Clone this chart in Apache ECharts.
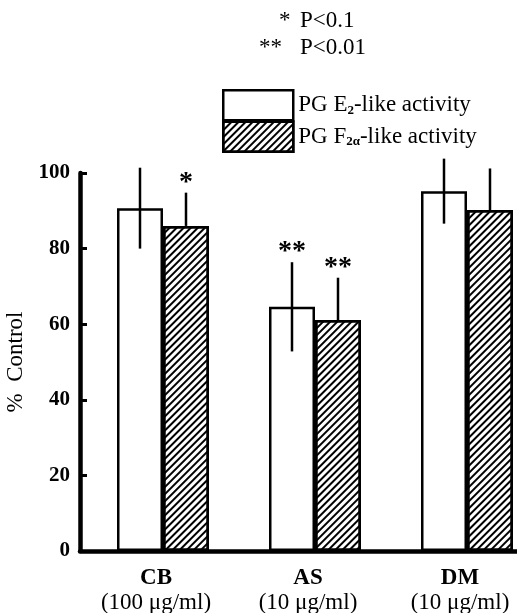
<!DOCTYPE html>
<html>
<head>
<meta charset="utf-8">
<script src="https://cdn.jsdelivr.net/npm/echarts@6/dist/echarts.min.js"></script>
<style>html,body{margin:0;padding:0;background:#fff;}#c{width:517px;height:613px;}</style>
</head>
<body>
<div id="c"></div>
<script>
var categories = ['CB', 'AS', 'DM'];
var concentrations = ['(100 μg/ml)', '(10 μg/ml)', '(10 μg/ml)'];
var pgE2 = [90.7, 64.6, 95.2];
var pgE2Err = [10.7, 11.8, 8.6];
var pgF2a = [86.0, 61.1, 90.2];
var pgF2aErr = [8.8, 11.2, 11.0];
var marksE2 = ['', '**', ''];
var marksF2a = ['*', '**', ''];
var yTicks = [0, 20, 40, 60, 80, 100];

var FONT = '"Liberation Serif", "Times New Roman", serif';
var OFF_E = -16, OFF_F = 30;

var errData = [];
for (var i = 0; i < categories.length; i++) {
  errData.push([i, pgE2[i], pgE2Err[i], 0]);
  errData.push([i, pgF2a[i], pgF2aErr[i], 1]);
}

var chart = echarts.init(document.getElementById('c'), null, {renderer: 'canvas'});
var hatch = {
  symbol: 'rect', symbolSize: 1, dashArrayX: [1, 0], dashArrayY: [2, 3],
  rotation: -Math.PI / 4, color: '#000'
};
function titleStyle(w) {
  return {fontFamily: FONT, fontSize: 23, fontWeight: 'normal', color: '#000',
    rich: {a: {width: w, align: 'left', fontFamily: FONT, fontSize: 23, color: '#000'},
           p: {fontFamily: FONT, fontSize: 23, color: '#000'}}};
}
chart.setOption({
  animation: false,
  backgroundColor: '#fff',
  title: [
    {text: '{a|*}{p|P<0.1}', left: 279, top: 9, padding: 0, textStyle: titleStyle(21)},
    {text: '{a|**}{p|P<0.01}', left: 259, top: 36, padding: 0, textStyle: titleStyle(41)}
  ],
  legend: {
    orient: 'vertical', left: 222, top: 89, padding: 0, itemWidth: 70, itemHeight: 30, itemGap: -1,
    icon: 'rect',
    data: ['E2', 'F2a'],
    itemStyle: {borderColor: '#000', borderWidth: 2.5},
    formatter: function (n) {
      return n === 'E2' ? 'PG E{s|2}-like activity' : 'PG F{s|2α}-like activity';
    },
    textStyle: {fontFamily: FONT, fontSize: 23, color: '#000',
      rich: {s: {fontFamily: FONT, fontSize: 13, fontWeight: 'bold', color: '#000', padding: [10, 0, 0, 0]}}}
  },
  grid: {left: 80, width: 456, top: 173, bottom: 62, outerBoundsMode: 'none', containLabel: false},
  xAxis: {
    type: 'category', data: categories,
    axisLine: {lineStyle: {color: '#000', width: 4.5}},
    axisTick: {show: false},
    axisLabel: {
      margin: 14, interval: 0,
      formatter: function (v, idx) { return '{b|' + v + '}\n{c|' + concentrations[idx] + '}'; },
      rich: {
        b: {fontFamily: FONT, fontSize: 23, fontWeight: 'bold', color: '#000', lineHeight: 26},
        c: {fontFamily: FONT, fontSize: 23, color: '#000', lineHeight: 24}
      }
    }
  },
  yAxis: {
    type: 'value', min: 0, max: 100, interval: 20,
    name: '%  Control', nameLocation: 'middle', nameGap: 47,
    nameTextStyle: {fontFamily: FONT, fontSize: 23, color: '#000'},
    axisLine: {show: true, lineStyle: {color: '#000', width: 4.5}},
    axisTick: {show: true, inside: true, length: 7, lineStyle: {color: '#000', width: 3}},
    axisLabel: {fontFamily: FONT, fontSize: 21, fontWeight: 'bold', color: '#000', margin: 10,
      formatter: function (v) { return yTicks.indexOf(v) >= 0 ? String(v) : ''; }},
    splitLine: {show: false}
  },
  series: [
    {type: 'bar', name: 'spacer', data: [null, null, null], barWidth: 14, silent: true,
     itemStyle: {color: 'rgba(0,0,0,0)'}},
    {type: 'bar', name: 'E2', data: pgE2, barWidth: 46, barGap: '0%',
     itemStyle: {color: '#fff', borderColor: '#000', borderWidth: 2.5}},
    {type: 'bar', name: 'F2a', data: pgF2a, barWidth: 46, barGap: '0%',
     itemStyle: {color: '#fff', borderColor: '#000', borderWidth: 2.5, decal: hatch}},
    {type: 'custom', name: 'err', data: errData, z: 10, silent: true,
     encode: {x: 0, y: 1},
     renderItem: function (params, api) {
       var cat = api.value(0), mean = api.value(1), err = api.value(2), s = api.value(3);
       var base = api.coord([cat, mean]);
       var x = base[0] + (s === 0 ? OFF_E : OFF_F);
       var top = api.coord([cat, mean + err])[1];
       var bot = s === 0 ? api.coord([cat, mean - err])[1] : base[1];
       var mark = s === 0 ? marksE2[cat] : marksF2a[cat];
       var children = [{type: 'line', shape: {x1: x, y1: top, x2: x, y2: bot},
         style: {stroke: '#000', lineWidth: 2.5}}];
       if (mark) {
         children.push({type: 'text', style: {text: mark, x: x, y: top + 4, align: 'center',
           verticalAlign: 'bottom', font: 'bold 28px ' + FONT, fill: '#000'}});
       }
       return {type: 'group', children: children};
     }}
  ]
});
</script>
</body>
</html>
